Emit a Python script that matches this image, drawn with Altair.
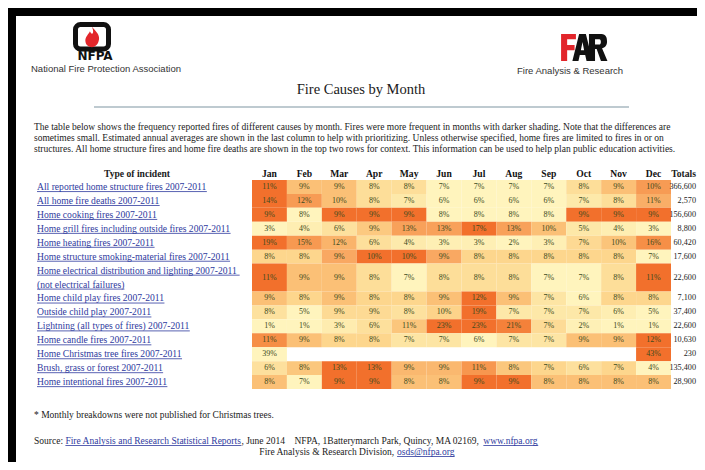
import altair as alt
import pandas as pd

# ---------------- data ----------------
months = ["Jan", "Feb", "Mar", "Apr", "May", "Jun", "Jul", "Aug", "Sep", "Oct", "Nov", "Dec"]
incidents = [
    "All reported home structure fires 2007-2011",
    "All home fire deaths 2007-2011",
    "Home cooking fires 2007-2011",
    "Home grill fires including outside fires 2007-2011",
    "Home heating fires 2007-2011",
    "Home structure smoking-material fires 2007-2011",
    "Home electrical distribution  and lighting 2007-2011\n(not electrical failures)",
    "Home child play fires 2007-2011",
    "Outside child play 2007-2011",
    "Lightning (all types of fires) 2007-2011",
    "Home candle fires 2007-2011",
    "Home Christmas tree fires 2007-2011",
    "Brush, grass or forest 2007-2011",
    "Home intentional fires 2007-2011",
]
pct_values = [
    [11, 9, 9, 8, 8, 7, 7, 7, 7, 8, 9, 10],
    [14, 12, 10, 8, 7, 6, 6, 6, 6, 7, 8, 11],
    [9, 8, 9, 9, 9, 8, 8, 8, 8, 9, 9, 9],
    [3, 4, 6, 9, 13, 13, 17, 13, 10, 5, 4, 3],
    [19, 15, 12, 6, 4, 3, 3, 2, 3, 7, 10, 16],
    [8, 8, 9, 10, 10, 9, 8, 8, 8, 8, 8, 7],
    [11, 9, 9, 8, 7, 8, 8, 8, 7, 7, 8, 11],
    [9, 8, 9, 8, 8, 9, 12, 9, 7, 6, 8, 8],
    [8, 5, 9, 9, 8, 10, 19, 7, 7, 7, 6, 5],
    [1, 1, 3, 6, 11, 23, 23, 21, 7, 2, 1, 1],
    [11, 9, 8, 8, 7, 7, 6, 7, 7, 9, 9, 12],
    [39, None, None, None, None, None, None, None, None, None, None, 43],
    [6, 8, 13, 13, 9, 9, 11, 8, 7, 6, 7, 4],
    [8, 7, 9, 9, 8, 8, 9, 9, 8, 8, 8, 8],
]
totals = ["366,600", "2,570", "156,600", "8,800", "60,420", "17,600", "22,600",
          "7,100", "37,400", "22,600", "10,630", "230", "135,400", "28,900"]

title_text = "Fire Causes by Month"
intro_lines = [
    "The table below shows the frequency reported fires of different causes by month.  Fires were more frequent in months with darker shading. Note that the differences are",
    "sometimes small.  Estimated annual averages are shown in the last column to help with prioritizing. Unless otherwise specified, home fires are limited to fires in or on",
    "structures.  All home structure fires and home fire deaths are shown in the top two rows for context.  This information can be used to help plan public education activities.",
]
footnote_text = "* Monthly breakdowns were not published for Christmas trees."
source_parts = ["Source: ", "Fire Analysis and Research Statistical Reports",
                ", June 2014\u00a0\u00a0\u00a0\u00a0NFPA, 1Batterymarch Park, Quincy, MA 02169, ", "www.nfpa.org"]
division_parts = ["Fire Analysis & Research Division, ", "osds@nfpa.org"]
nfpa_name = "National Fire Protection Association"
far_name = "Fire Analysis & Research"

# ---------------- styling helpers ----------------
SERIF = "Liberation Serif, Times New Roman, serif"
SANS = "Liberation Sans, Arial, sans-serif"
LINK = "#2e3a9e"
W, H = 689, 454

_TW = {}
for w, chars in [(250, " ,.\u00a0"), (278, "ijlt:;/"), (333, "fr-()I'\""), (389, "sJ"),
                 (444, "acez?"), (500, "bdghknopquvxy0123456789*$#"), (556, "FPS"),
                 (611, "ETLZ"), (667, "BCR"), (722, "ADGHKNOUVXYwQ"), (778, "m&"),
                 (833, "%"), (889, "M"), (944, "W"), (921, "@")]:
    for c in chars:
        _TW[c] = w


def tw(s, size):
    return sum(_TW.get(c, 500) for c in s) / 1000 * size


def P(v):  # reference page coordinate -> chart coordinate
    return v - 8


one = pd.DataFrame({"t": [""]})


def txt(s, x, y, size, font=SERIF, color="#1a1a1a", weight="normal", align="left",
        baseline="alphabetic", **kw):
    return alt.Chart(pd.DataFrame({"t": [s]})).mark_text(
        x=P(x), y=P(y), fontSize=size, font=font, color=color, fontWeight=weight,
        align=align, baseline=baseline, **kw).encode(text="t:N")


def hline(x0, x1, y, color, width=0.8):
    return alt.Chart(one).mark_rule(color=color, strokeWidth=width).encode(
        x=alt.value(P(x0)), x2=alt.value(P(x1)), y=alt.value(P(y)))


def glyph(path, cx, cy, size, color):
    return alt.Chart(one).mark_point(shape=path, filled=True, color=color, opacity=1,
                                     size=size, strokeWidth=0).encode(
        x=alt.value(P(cx)), y=alt.value(P(cy)))


# ---------------- tables ----------------
FS_LAB = 9.6
LX = 33
cells, labels, tots = [], [], []
start = 0
for i, (lab, vals, tot) in enumerate(zip(incidents, pct_values, totals)):
    lines = lab.split("\n")
    n = len(lines)
    for m, v in zip(months, vals):
        if v is not None:
            cells.append(dict(row=i, month=m, pct=v, y0=start, y1=start + n, ym=start + n / 2))
    for k, line in enumerate(lines):
        labels.append(dict(row=i, text=line, ym=start + k + 0.5,
                           u0=P(LX), u1=P(LX + tw(line, FS_LAB))))
    tots.append(dict(row=i, total=tot, ym=start + n / 2))
    start += n

cells_df = pd.DataFrame(cells)
labels_df = pd.DataFrame(labels)
tots_df = pd.DataFrame(tots)
months_df = pd.DataFrame({"month": months})

xband = alt.Scale(type="band", domain=months, range=[P(248), P(667)], paddingInner=0, paddingOuter=0)
yscale = alt.Scale(domain=[0, start], range=[P(176), P(385)], zero=False, nice=False)

cell_rect = alt.Chart(cells_df).transform_joinaggregate(
    mn="min(pct)", mx="max(pct)", groupby=["row"]
).transform_calculate(
    shade="(datum.pct - datum.mn) / (datum.mx - datum.mn)"
).mark_rect().encode(
    x=alt.X("month:N", scale=xband, axis=None),
    y=alt.Y("y0:Q", scale=yscale, axis=None),
    y2="y1:Q",
    color=alt.Color("shade:Q", legend=None,
                    scale=alt.Scale(domain=[0, 0.33, 0.67, 1],
                                    range=["#fff4bd", "#fdd68e", "#f9a862", "#f2702c"])),
)

cell_text = alt.Chart(cells_df).transform_calculate(
    lbl="datum.pct + '%'"
).mark_text(font=SERIF, fontSize=8, color="#3c4a1c", baseline="middle").encode(
    x=alt.X("month:N", scale=xband, axis=None),
    y=alt.Y("ym:Q", scale=yscale, axis=None),
    text="lbl:N",
)

month_head = alt.Chart(months_df).mark_text(
    font=SERIF, fontSize=9.6, fontWeight="bold", color="#111", baseline="middle"
).encode(
    x=alt.X("month:N", scale=xband, axis=None),
    y=alt.value(P(170)),
    text="month:N",
)

row_labels = alt.Chart(labels_df).mark_text(
    font=SERIF, fontSize=FS_LAB, color=LINK, align="left", baseline="middle"
).encode(
    x=alt.value(P(LX)),
    y=alt.Y("ym:Q", scale=yscale, axis=None),
    text="text:N",
)

row_underline = alt.Chart(labels_df).transform_calculate(
    yu="datum.ym + 0.33"
).mark_rule(color=LINK, strokeWidth=0.8).encode(
    x=alt.X("u0:Q", scale=None, axis=None),
    x2="u1:Q",
    y=alt.Y("yu:Q", scale=yscale, axis=None),
)

TOT_X = 692
tot_text = alt.Chart(tots_df).mark_text(
    font=SERIF, fontSize=8.2, color="#222", align="right", baseline="middle"
).encode(
    x=alt.value(P(TOT_X)),
    y=alt.Y("ym:Q", scale=yscale, axis=None),
    text="total:N",
)

# ---------------- page furniture ----------------
frame = alt.Chart(one).mark_rect(fillOpacity=0, stroke="#000", strokeWidth=8).encode(
    x=alt.value(0), x2=alt.value(W), y=alt.value(0), y2=alt.value(H))

FLAME = ("M0,-1 C0.35,-0.55 0.85,-0.2 0.65,0.4 C0.55,0.8 0.25,1 0,1 C-0.3,1 -0.65,0.8 -0.65,0.35 "
         "C-0.65,0 -0.35,-0.25 -0.2,-0.55 C-0.1,-0.3 0.05,-0.25 0.1,-0.45 C0.15,-0.65 0.05,-0.8 0,-1 Z")
LETTER_F = "M-0.55,-1 L0.55,-1 L0.55,-0.62 L-0.1,-0.62 L-0.1,-0.18 L0.45,-0.18 L0.45,0.2 L-0.1,0.2 L-0.1,1 L-0.55,1 Z"
LETTER_A = ("M-0.25,-1 L0.25,-1 L0.75,1 L0.3,1 L0.2,0.55 L-0.2,0.55 L-0.3,1 L-0.75,1 Z "
            "M-0.12,0.2 L0.12,0.2 L0,-0.4 Z")
LETTER_R = ("M-0.67,-1 L0.25,-1 C0.6,-1 0.67,-0.7 0.67,-0.45 C0.67,-0.15 0.5,0 0.3,0.05 L0.7,1 "
            "L0.22,1 L-0.1,0.12 L-0.22,0.12 L-0.22,1 L-0.67,1 Z "
            "M-0.22,-0.62 L-0.22,-0.22 L0.1,-0.22 C0.25,-0.22 0.25,-0.62 0.1,-0.62 Z")

nfpa_box = alt.Chart(one).mark_rect(fillOpacity=0, stroke="#111", strokeWidth=5, cornerRadius=5).encode(
    x=alt.value(P(71.5)), x2=alt.value(P(104.5)), y=alt.value(P(20.5)), y2=alt.value(P(45)))

layers = [frame, nfpa_box,
          glyph(FLAME, 88, 33, 420, "#e3262b"),
          txt("NFPA", 91, 56, 12, font="DejaVu Sans, sans-serif", color="#111", weight="bold", align="center"),
          txt(nfpa_name, 27, 68, 9.5, font=SANS, color="#333"),
          glyph(LETTER_F, 564.5, 43.5, 729, "#e2252b"),
          glyph(LETTER_A, 578.5, 43.5, 729, "#111"),
          glyph(LETTER_R, 594, 43.5, 729, "#111"),
          txt(far_name, 513, 70, 9.5, font=SANS, color="#333"),
          txt(title_text, 357, 90, 14.5, align="center"),
          hline(90, 625, 103, "#a9b8c0", 1.5),
          txt("\n".join(intro_lines), 30, 126, 9.5, lineBreak="\n", lineHeight=11),
          txt("Type of incident", 133, 170, 9.6, weight="bold", align="center", baseline="middle"),
          txt("Totals", TOT_X, 170, 9.6, weight="bold", align="right", baseline="middle"),
          cell_rect, cell_text, month_head, row_labels, row_underline, tot_text,
          txt(footnote_text, 30, 414, 9.5)]

# source line segments
FS_SRC = 9.5
sx = 30
for k, seg in enumerate(source_parts):
    col = LINK if k % 2 == 1 else "#1a1a1a"
    layers.append(txt(seg, sx, 440, FS_SRC, color=col))
    if k % 2 == 1:
        layers.append(hline(sx, sx + tw(seg, FS_SRC), 441.5, LINK))
    sx += tw(seg, FS_SRC)

dx = 353 - tw("".join(division_parts), FS_SRC) / 2
for k, seg in enumerate(division_parts):
    col = LINK if k == 1 else "#1a1a1a"
    layers.append(txt(seg, dx, 451, FS_SRC, color=col))
    if k == 1:
        layers.append(hline(dx, dx + tw(seg, FS_SRC), 452.5, LINK))
    dx += tw(seg, FS_SRC)

chart = alt.layer(*layers).resolve_scale(x="independent").properties(
    width=W, height=H, padding=0,
    autosize=alt.AutoSizeParams(type="fit", contains="padding"),
    background="white",
).configure_view(stroke=None)

chart.save("out.html", embed_options={"renderer": "svg", "actions": False})
